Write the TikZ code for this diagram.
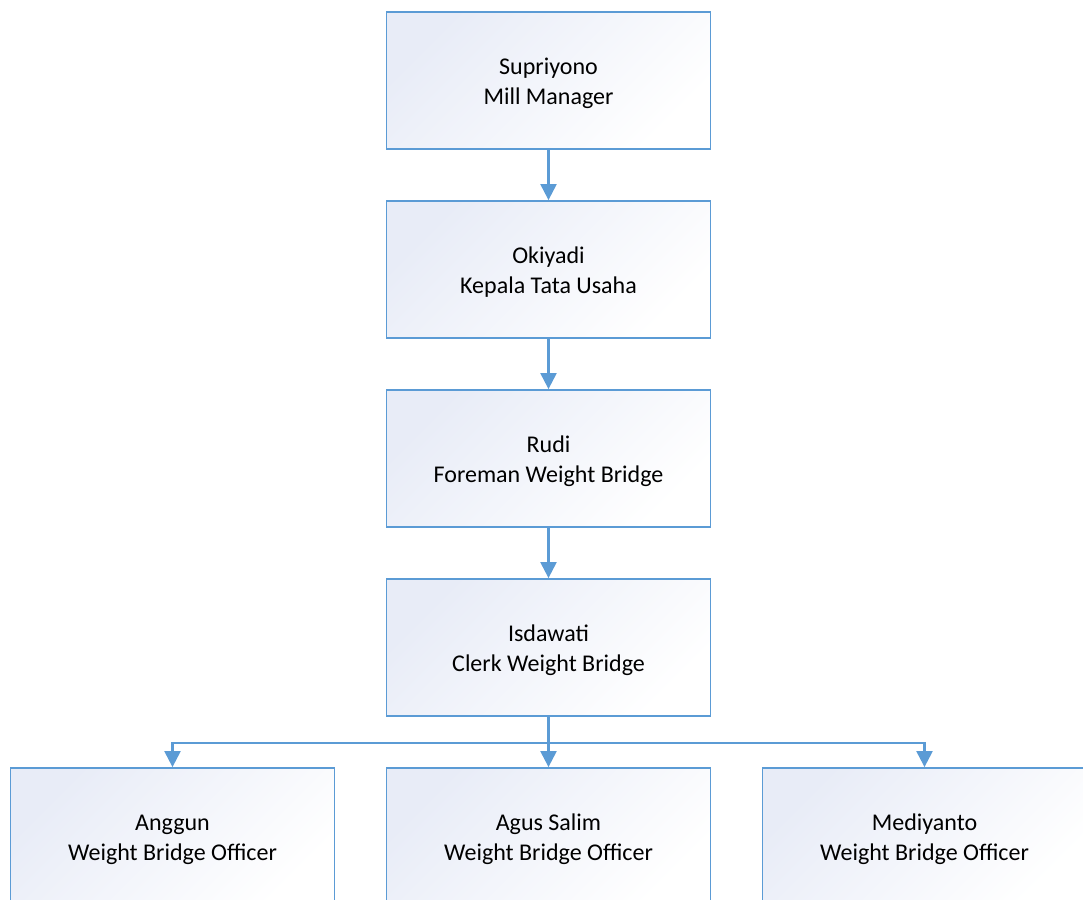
\documentclass[tikz,border=0pt]{standalone}
\usepackage{fontspec}
\setmainfont{Carlito}
\usetikzlibrary{arrows.meta,calc}
\definecolor{edgeblue}{HTML}{5B9BD5}
\definecolor{tintblue}{HTML}{E8ECF7}
\tikzset{
  orgbox/.style={draw=edgeblue, line width=1.8pt,
    shading=axis, top color=tintblue, bottom color=white, shading angle=45,
    minimum width=324pt, minimum height=137pt, inner sep=0pt,
    align=center, font=\fontsize{24}{30}\selectfont, text=black},
  label/.style={yshift=-3pt, align=center,
    font=\fontsize{24}{30}\selectfont, text=black},
  link/.style={draw=edgeblue, line width=2.2pt,
    -{Triangle[width=16pt,length=16pt]}}
}
\begin{document}
\begin{tikzpicture}[x=1pt, y=-1pt]
  \useasboundingbox (0,0) rectangle (1083,899);
  \clip (0,0) rectangle (1083,899);
  % management chain
  \node[orgbox] (mgr)   at (548.5, 80.5)  {};
  \node[orgbox] (ktu)   at (548.5, 269.5) {};
  \node[orgbox] (fore)  at (548.5, 458.5) {};
  \node[orgbox] (clerk) at (548.5, 647.5) {};
  % officers
  \node[orgbox] (off1) at (172.5, 836.5) {};
  \node[orgbox] (off2) at (548.5, 836.5) {};
  \node[orgbox] (off3) at (924.5, 836.5) {};
  % names and positions
  \node[label] (tmgr)   at (mgr)   {Supriyono\\Mill Manager};
  \node[label] (tktu)   at (ktu)   {Okiyadi\\Kepala Tata Usaha};
  \node[label] (tfore)  at (fore)  {Rudi\\Foreman Weight Bridge};
  \node[label] (tclerk) at (clerk) {Isdawati\\Clerk Weight Bridge};
  \node[label] (toff1)  at (off1)  {Anggun\\Weight Bridge Officer};
  \node[label] (toff2)  at (off2)  {Agus Salim\\Weight Bridge Officer};
  \node[label] (toff3)  at (off3)  {Mediyanto\\Weight Bridge Officer};
  % reporting lines
  \draw[link] (mgr.south) -- (ktu.north);
  \draw[link] (ktu.south) -- (fore.north);
  \draw[link] (fore.south) -- (clerk.north);
  \coordinate (bus) at ($(clerk.south)+(0,26)$);
  \draw[link] (clerk.south) -- (off2.north);
  \draw[link] (clerk.south) -- (bus) -| (off1.north);
  \draw[link] (clerk.south) -- (bus) -| (off3.north);
\end{tikzpicture}
\end{document}
